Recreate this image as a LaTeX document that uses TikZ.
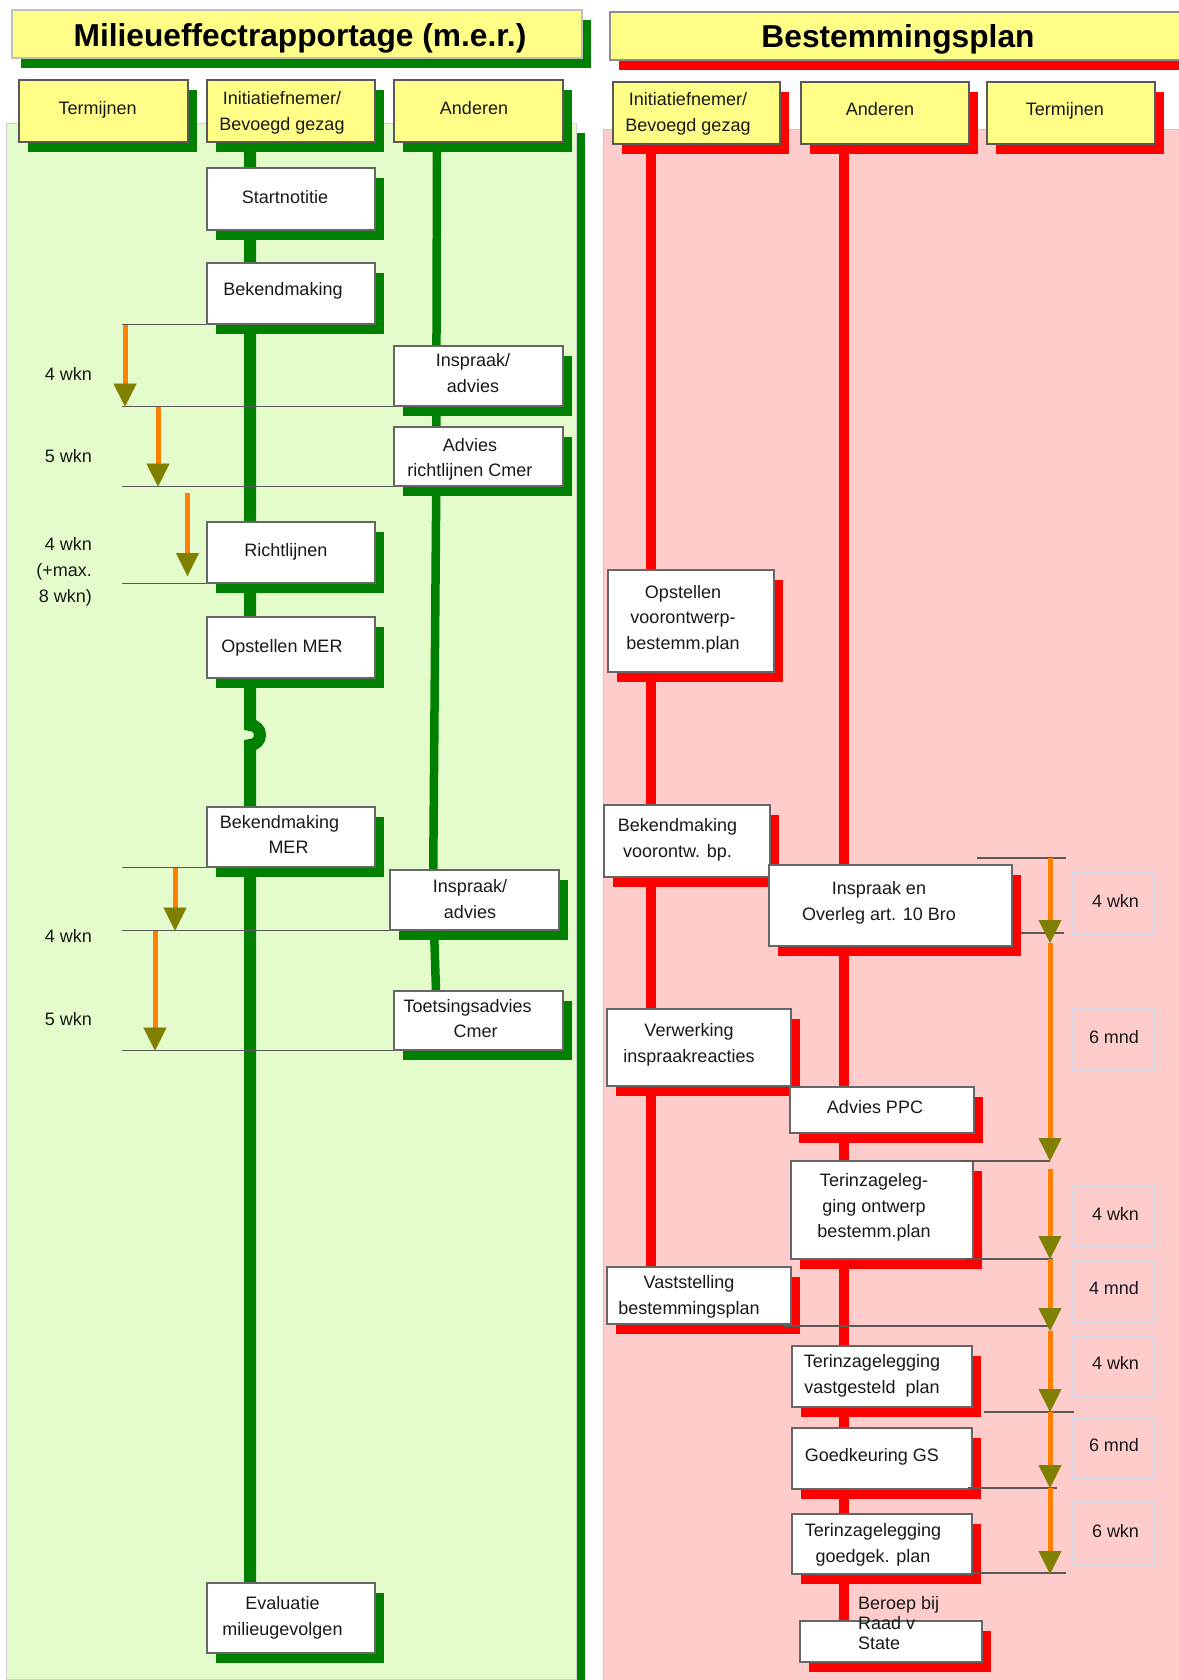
\documentclass[tikz,border=0pt]{standalone}
\usepackage{fontspec}
\setmainfont{Liberation Sans}
\usetikzlibrary{shadows,arrows.meta}

\definecolor{mgreen}{RGB}{0,128,0}
\definecolor{mred}{RGB}{255,0,0}
\definecolor{mbgg}{RGB}{228,252,204}
\definecolor{mbgr}{RGB}{255,204,204}
\definecolor{myellow}{RGB}{255,255,136}
\definecolor{morange}{RGB}{255,128,0}
\definecolor{mhead}{RGB}{128,128,0}
\definecolor{mtime}{RGB}{212,218,236}

\pgfdeclarelayer{bg}
\pgfdeclarelayer{life}
\pgfsetlayers{bg,life,main}

\begin{document}
\begin{tikzpicture}[x=1pt, y=-1pt,
  txt/.style={font=\fontsize{18}{25.5}\selectfont, align=center, inner sep=0pt, text=black!90},
  ttl/.style={font=\fontsize{31.7}{36}\selectfont\bfseries, inner sep=0pt},
  gshade/.style={drop shadow={shadow xshift=9pt, shadow yshift=-10pt, fill=mgreen, opacity=1}},
  rshade/.style={drop shadow={shadow xshift=9pt, shadow yshift=-10pt, fill=mred, opacity=1}},
  card/.style={rectangle, fill=white, draw=black!60, line width=1.2pt, inner sep=0pt},
  head/.style={rectangle, fill=myellow, draw=black!65, line width=1.2pt, inner sep=0pt},
  tbox/.style={rectangle, draw=mtime, line width=1.6pt, inner sep=0pt, minimum width=82pt},
  tick/.style={draw=black!65, line width=1.3pt},
  lifeg/.style={draw=mgreen, line width=12pt},
  lifega/.style={draw=mgreen, line width=8.5pt},
  lifer/.style={draw=mred, line width=9.5pt},
  dur/.style={draw=morange, line width=5pt,
    -{Triangle[width=23pt, length=23pt, color=mhead, fill=mhead, line width=0.1pt]}},
]
\useasboundingbox (0,0) rectangle (1178,1680);

% ---------- column backgrounds ----------
\begin{pgfonlayer}{bg}
  \fill[white] (0,0) rectangle (1178,1680);
  \fill[mgreen] (15,133) rectangle (585,1690);
  \path[fill=mbgg, draw=black!18, line width=1pt] (6,124) rectangle (576,1679);
  \path[fill=mbgr, draw=black!22, line width=1pt] (603,130) rectangle (1195,1690);
\end{pgfonlayer}

% ---------- titles ----------
\node[head, draw=black!25, gshade, minimum width=570pt, minimum height=48pt] (merbar) at (297,34) {};
\node[ttl, anchor=base] (mertitle) at (300,47) {Milieueffectrapportage (m.e.r.)};
\node[head, draw=black!45, rshade, minimum width=580pt, minimum height=48pt] (bpbar) at (900,36) {};
\node[ttl, anchor=base] (bptitle) at (898,47.5) {Bestemmingsplan};

% ---------- column headers ----------
\node[head, gshade, minimum width=169pt, minimum height=62pt] (termL) at (103.5,111) {};
\node[head, gshade, minimum width=168pt, minimum height=62pt] (initL) at (291,111) {};
\node[head, gshade, minimum width=169pt, minimum height=62pt] (andL) at (478.5,111) {};
\node[head, rshade, minimum width=167pt, minimum height=62pt] (initR) at (696.5,113) {};
\node[head, rshade, minimum width=168pt, minimum height=62pt] (andR) at (885,113) {};
\node[head, rshade, minimum width=168pt, minimum height=62pt] (termR) at (1071,113) {};

% ---------- m.e.r. steps ----------
\node[card, gshade, minimum width=168pt, minimum height=62pt] (startnotitie) at (291,199) {};
\node[card, gshade, minimum width=168pt, minimum height=61pt] (bekend) at (291,293.5) {};
\node[card, gshade, minimum width=169pt, minimum height=60pt] (inspraak1) at (478.5,376) {};
\node[card, gshade, minimum width=169pt, minimum height=59pt] (adviesrl) at (478.5,456.5) {};
\node[card, gshade, minimum width=168pt, minimum height=61pt] (richtlijnen) at (291,552.5) {};
\node[card, gshade, minimum width=168pt, minimum height=61pt] (opstmer) at (291,647.5) {};
\node[card, gshade, minimum width=168pt, minimum height=60pt] (bekendmer) at (291,837) {};
\node[card, gshade, minimum width=169pt, minimum height=60pt] (inspraak2) at (474.5,900) {};
\node[card, gshade, minimum width=169pt, minimum height=59pt] (toetsing) at (478.5,1020.5) {};
\node[card, gshade, minimum width=168pt, minimum height=70pt] (evaluatie) at (291,1618) {};

% ---------- bestemmingsplan steps ----------
\node[card, rshade, minimum width=166pt, minimum height=102pt] (opstvo) at (691,621) {};
\node[card, rshade, minimum width=166pt, minimum height=72pt] (bekendvo) at (687,841) {};
\node[card, rshade, minimum width=243pt, minimum height=81pt] (inspraakR) at (890.5,905.5) {};
\node[card, rshade, minimum width=184pt, minimum height=77pt] (verwerking) at (699,1047.5) {};
\node[card, rshade, minimum width=184pt, minimum height=46pt] (ppc) at (882,1110) {};
\node[card, rshade, minimum width=182pt, minimum height=98pt] (terontw) at (882,1210) {};
\node[card, rshade, minimum width=184pt, minimum height=57pt] (vaststelling) at (699,1295.5) {};
\node[card, rshade, minimum width=180pt, minimum height=61pt] (tervast) at (882,1376.5) {};
\node[card, rshade, minimum width=180pt, minimum height=61pt] (goedk) at (882,1458.5) {};
\node[card, rshade, minimum width=180pt, minimum height=60pt] (tergoed) at (882,1544) {};
\node[card, rshade, minimum width=182pt, minimum height=41pt] (raad) at (891,1641.5) {};

% ---------- lifelines ----------
\coordinate (gI) at (250,0);
\coordinate (gA) at (437,0);
\coordinate (gA2) at (436,0);
\coordinate (rI) at (651,0);
\coordinate (rA) at (844,0);
\begin{pgfonlayer}{life}
  \draw[lifeg] (gI |- initL.south) -- (250,725)
      arc[start angle=90, end angle=-90, radius=10pt] -- (gI |- evaluatie.north);
  \draw[lifega] (gA |- andL.south) -- (436,520) -- (433,900) -- (gA2 |- toetsing.north);
  \draw[lifer] (rI |- initR.south) -- (rI |- vaststelling.north);
  \draw[lifer] (rA |- andR.south) -- (rA |- raad.north);
\end{pgfonlayer}

% ---------- m.e.r. time marks ----------
\coordinate (tl) at (122,0);
\draw[tick] (tl |- bekend.south) -- (bekend.south west);
\draw[tick] (tl |- inspraak1.south) -- (inspraak1.south west);
\draw[tick] (tl |- adviesrl.south) -- (adviesrl.south west);
\draw[tick] (tl |- richtlijnen.south) -- (richtlijnen.south west);
\draw[tick] (tl |- bekendmer.south) -- (bekendmer.south west);
\draw[tick] (tl |- inspraak2.south) -- (inspraak2.south west);
\draw[tick] (tl |- toetsing.south) -- (toetsing.south west);

\coordinate (ax1) at (125,0);
\coordinate (ax2) at (158,0);
\coordinate (a3s) at (187.5,493);
\coordinate (a3e) at (187.5,576);
\coordinate (ax4) at (175,0);
\coordinate (ax5) at (155,0);
\draw[dur] (ax1 |- bekend.south) -- (ax1 |- inspraak1.south);
\draw[dur] (ax2 |- inspraak1.south) -- (ax2 |- adviesrl.south);
\draw[dur] (a3s) -- (a3e);
\draw[dur] (ax4 |- bekendmer.south) -- (ax4 |- inspraak2.south);
\draw[dur] (ax5 |- inspraak2.south) -- (ax5 |- toetsing.south);

% ---------- bestemmingsplan time marks ----------
\coordinate (k0) at (1050,858);
\coordinate (k1) at (1050,943);
\coordinate (k2) at (1050,1161);
\coordinate (k2b) at (1050,1169);
\coordinate (k3) at (1050,1259);
\coordinate (k4) at (1050,1331);
\coordinate (k5) at (1050,1412);
\coordinate (k6) at (1050,1488);
\coordinate (k7) at (1050,1574);
\coordinate (m0) at (977,858);   \coordinate (n0) at (1066,858);
\coordinate (m1) at (1021,933);  \coordinate (n1) at (1064,933);
\coordinate (m2) at (961,1161);
\coordinate (m3) at (965,1259);  \coordinate (n3) at (1053,1259);
\coordinate (m4) at (784,1326);  \coordinate (n4) at (1050,1326);
\coordinate (m5) at (984,1412);  \coordinate (n5) at (1074,1412);
\coordinate (m6) at (968,1488);  \coordinate (n6) at (1057,1488);
\coordinate (m7) at (974,1573);  \coordinate (n7) at (1066,1573);
\draw[tick] (m0) -- (n0);
\draw[tick] (m1) -- (n1);
\draw[tick] (m2) -- (k2);
\draw[tick] (m3) -- (n3);
\draw[tick] (m4) -- (n4);
\draw[tick] (m5) -- (n5);
\draw[tick] (m6) -- (n6);
\draw[tick] (m7) -- (n7);

\draw[dur] (k0) -- (k1);
\draw[dur] (k1) -- (k2);
\draw[dur] (k2b) -- (k3);
\draw[dur] (k3) -- (k4);
\draw[dur] (k4) -- (k5);
\draw[dur] (k5) -- (k6);
\draw[dur] (k6) -- (k7);

% ---------- duration boxes ----------
\node[tbox, minimum height=61pt] (d1) at (1113,903.5) {};
\node[tbox, minimum height=62pt] (d2) at (1113,1040) {};
\node[tbox, minimum height=60pt] (d3) at (1113,1217) {};
\node[tbox, minimum height=61pt] (d4) at (1113,1291.5) {};
\node[tbox, minimum height=60pt] (d5) at (1113,1366) {};
\node[tbox, minimum height=60pt] (d6) at (1113,1448) {};
\node[tbox, minimum height=61pt] (d7) at (1113,1533.5) {};

% ---------- texts, m.e.r. ----------
\node[txt, anchor=base] (t-termL) at (97.6,115) {Termijnen};
\node[txt] (t-initL) at (282,113) {Initiatiefnemer/\\Bevoegd gezag};
\node[txt, anchor=base] (t-andL) at (474,115) {Anderen};
\node[txt, anchor=base] (t-start) at (285,203.3) {Startnotitie};
\node[txt, anchor=base] (t-bekend) at (283,295.5) {Bekendmaking};
\node[txt] (t-insp1) at (473,373) {Inspraak/\\advies};
\node[txt] (t-advrl) at (470,459.5) {Advies\\richtlijnen Cmer};
\node[txt, anchor=base] (t-richt) at (285.8,556) {Richtlijnen};
\node[txt, anchor=base] (t-opstmer) at (282,652.7) {Opstellen MER};
\node[txt] (t-bekmer) at (279.5,834.7) {Bekendmaking\\\hspace*{18pt}MER};
\node[txt] (t-insp2) at (470,899) {Inspraak/\\advies};
\node[txt] (t-toets) at (467.7,1018.7) {Toetsingsadvies\\\hspace*{16pt}Cmer};
\node[txt] (t-eval) at (282.5,1618) {Evaluatie\\milieugevolgen};

\node[txt, anchor=base east] (l1) at (92,380) {4 wkn};
\node[txt, anchor=base east] (l2) at (92,462) {5 wkn};
\node[txt, anchor=east, align=right, font=\fontsize{18}{26}\selectfont] (l3) at (92,572) {4 wkn\\(+max.\\8 wkn)};
\node[txt, anchor=base east] (l4) at (92,942) {4 wkn};
\node[txt, anchor=base east] (l5) at (92,1025) {5 wkn};

% ---------- texts, bestemmingsplan ----------
\node[txt] (t-initR) at (688,114) {Initiatiefnemer/\\Bevoegd gezag};
\node[txt, anchor=base] (t-andR) at (880,116) {Anderen};
\node[txt, anchor=base] (t-termR) at (1064.8,116) {Termijnen};
\node[txt] (t-opstvo) at (683,619) {Opstellen\\voorontwerp-\\bestemm.plan};
\node[txt] (t-bekvo) at (677.5,839.8) {Bekendmaking\\voorontw. bp.};
\node[txt] (t-inspR) at (879,903) {Inspraak en\\Overleg art. 10 Bro};
\node[txt] (t-verw) at (689,1045) {Verwerking\\inspraakreacties};
\node[txt, anchor=base] (t-ppc) at (875,1113) {Advies PPC};
\node[txt] (t-terontw) at (874,1207.5) {Terinzageleg-\\ging ontwerp\\bestemm.plan};
\node[txt] (t-vast) at (689,1297) {Vaststelling\\bestemmingsplan};
\node[txt] (t-tervast) at (872,1376) {Terinzagelegging\\vastgesteld\ \ plan};
\node[txt, anchor=base] (t-goedk) at (871.8,1461.5) {Goedkeuring GS};
\node[txt] (t-tergoed) at (873,1544.6) {Terinzagelegging\\goedgek. plan};
\node[txt, anchor=west, align=left, font=\fontsize{18}{20}\selectfont] (t-raad) at (858,1623.5) {Beroep bij\\Raad v\\State};

\node[txt, anchor=base] (t-d1) at (1115.5,907) {4 wkn};
\node[txt, anchor=base] (t-d2) at (1114,1043) {6 mnd};
\node[txt, anchor=base] (t-d3) at (1115.5,1220.5) {4 wkn};
\node[txt, anchor=base] (t-d4) at (1114,1294) {4 mnd};
\node[txt, anchor=base] (t-d5) at (1115.5,1369) {4 wkn};
\node[txt, anchor=base] (t-d6) at (1114,1451) {6 mnd};
\node[txt, anchor=base] (t-d7) at (1115.5,1537) {6 wkn};
\end{tikzpicture}
\end{document}
